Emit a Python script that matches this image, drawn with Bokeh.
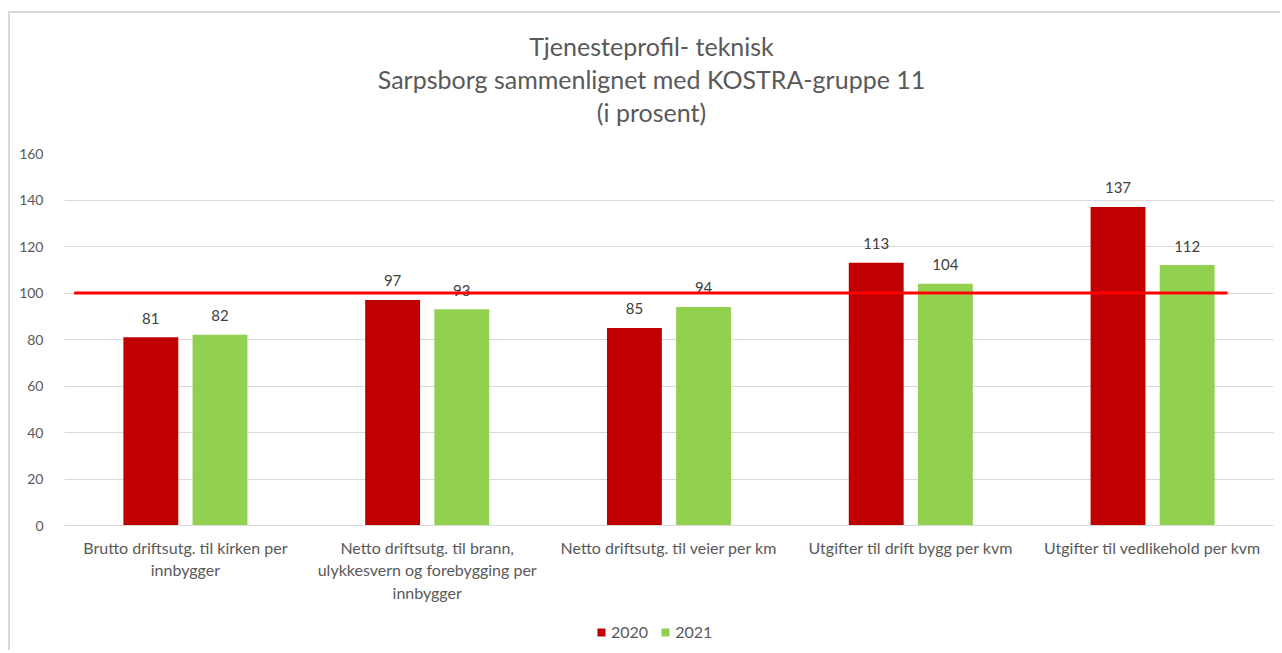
from bokeh.plotting import figure
from bokeh.layouts import column
from bokeh.models import (ColumnDataSource, FactorRange, Range1d,
                          Legend, LegendItem)
from bokeh.core.properties import value
from bokeh.transform import dodge
from bokeh.embed import file_html
from bokeh.resources import INLINE

# ---- data ----
categories = [
    "Brutto driftsutg. til kirken per\ninnbygger",
    "Netto driftsutg. til brann,\nulykkesvern og forebygging per\ninnbygger",
    "Netto driftsutg. til veier per km",
    "Utgifter til drift bygg per kvm",
    "Utgifter til vedlikehold per kvm",
]
values_2020 = [81, 97, 85, 113, 137]
values_2021 = [82, 93, 94, 104, 112]
series_names = ["2020", "2021"]
ref_value = 100
ref_x = [0.04, 4.81]
y_ticks = [0, 20, 40, 60, 80, 100, 120, 140, 160]
title_lines = ["Tjenesteprofil- teknisk",
               "Sarpsborg sammenlignet med KOSTRA-gruppe 11",
               "(i prosent)"]

FONT = "Lato"
RED = "#C00000"
GREEN = "#92D050"
TXT = "#595959"
W = 1280
BL, BR = 64, 7


def clear_bg(f):
    f.border_fill_color = None
    f.background_fill_color = None
    f.outline_line_color = None


# ---- title strip (x, y in strip pixels) ----
TH = 145
tt = figure(width=W, height=TH, x_range=Range1d(BL, W - BR), y_range=Range1d(TH, 0),
            output_backend="svg", toolbar_location=None,
            x_axis_location=None, y_axis_location=None,
            min_border_left=BL, min_border_right=BR, min_border_top=0, min_border_bottom=0)
tt.xgrid.visible = False
tt.ygrid.visible = False
clear_bg(tt)
tt.text(x=[651, 651, 651], y=[45, 78, 111], text=title_lines,
        text_align="center", text_baseline="middle", text_font=value(FONT),
        text_font_size="25px", text_color=TXT)

# ---- main chart ----
src = ColumnDataSource(dict(
    cat=categories,
    v20=values_2020,
    v21=values_2021,
    l20=[str(v) for v in values_2020],
    l21=[str(v) for v in values_2021],
))

p = figure(width=W, height=475, x_range=FactorRange(factors=categories, range_padding=0),
           y_range=Range1d(0, 160), output_backend="svg", toolbar_location=None,
           min_border_left=BL, min_border_right=BR, min_border_top=8, min_border_bottom=95)
clear_bg(p)

off = 0.143
w = 0.227
r1 = p.vbar(x=dodge("cat", -off, range=p.x_range), top="v20", width=w, source=src,
            fill_color=RED, line_color=None)
r2 = p.vbar(x=dodge("cat", off, range=p.x_range), top="v21", width=w, source=src,
            fill_color=GREEN, line_color=None)

p.text(x=dodge("cat", -off, range=p.x_range), y="v20", text="l20", source=src,
       text_align="center", text_baseline="alphabetic", y_offset=-19,
       text_font_size="15px", text_color="#404040", text_font=value(FONT))
p.text(x=dodge("cat", off, range=p.x_range), y="v21", text="l21", source=src,
       text_align="center", text_baseline="alphabetic", y_offset=-19,
       text_font_size="15px", text_color="#404040", text_font=value(FONT))

p.line(x=ref_x, y=[ref_value, ref_value], line_color="#FF0000", line_width=3)

p.yaxis.ticker = y_ticks
p.yaxis.axis_line_color = None
p.yaxis.major_tick_line_color = None
p.yaxis.minor_tick_line_color = None
p.yaxis.major_label_text_font = FONT
p.yaxis.major_label_text_font_size = "14px"
p.yaxis.major_label_text_color = TXT
p.yaxis.major_label_standoff = 15

p.xaxis.axis_line_color = "#d9d9d9"
p.xaxis.major_tick_line_color = None
p.xaxis.minor_tick_line_color = None
p.xaxis.major_label_text_font = FONT
p.xaxis.major_label_text_font_size = "16px"
p.xaxis.major_label_text_color = TXT
p.xaxis.major_label_standoff = 6
p.xaxis.major_label_text_line_height = 1.2

p.xgrid.grid_line_color = None
p.ygrid.grid_line_color = "#d9d9d9"
p.ygrid.grid_line_width = 1

# ---- legend strip ----
lg = figure(width=W, height=30, x_range=Range1d(0, 1), y_range=Range1d(0, 1),
            output_backend="svg", toolbar_location=None,
            x_axis_location=None, y_axis_location=None,
            min_border_left=BL, min_border_right=BR, min_border_top=0, min_border_bottom=0)
lg.xgrid.visible = False
lg.ygrid.visible = False
clear_bg(lg)
d1 = lg.vbar(x=[0.5], top=[0], width=0.1, fill_color=RED, line_color=None)
d2 = lg.vbar(x=[0.5], top=[0], width=0.1, fill_color=GREEN, line_color=None)
legend = Legend(items=[LegendItem(label=series_names[0], renderers=[d1]),
                       LegendItem(label=series_names[1], renderers=[d2])],
                orientation="horizontal", location=(532, 9),
                label_text_font=FONT, label_text_font_size="16px", label_text_color=TXT,
                glyph_width=10, glyph_height=10, spacing=12, label_standoff=5,
                border_line_color=None, background_fill_alpha=0, margin=0, padding=4)
lg.add_layout(legend, "center")

layout = column(tt, p, lg, spacing=0)
layout.styles = {
    "background": ("linear-gradient(#d9d9d9, #d9d9d9) 8px 11px / 2px 100% no-repeat, "
                   "linear-gradient(#d9d9d9, #d9d9d9) 8px 11px / 100% 2px no-repeat, white"),
}
open("out.html", "w").write(file_html(layout, INLINE))
